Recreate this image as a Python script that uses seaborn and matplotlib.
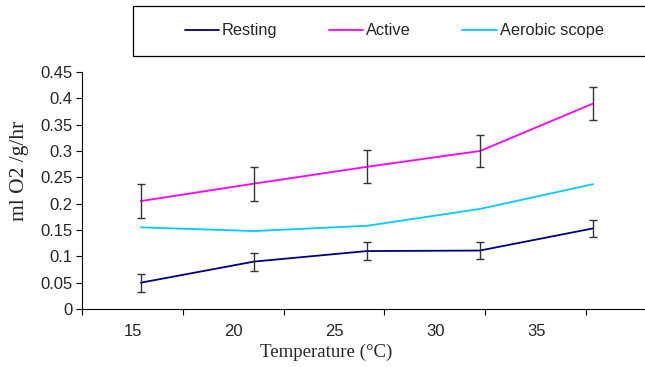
import matplotlib
matplotlib.use('Agg')

import numpy as np
import pandas as pd
import seaborn as sns
import matplotlib.pyplot as plt
from matplotlib.patches import Rectangle
from matplotlib.lines import Line2D

# Data
temperatures = [15, 20, 25, 30, 35]
resting = [0.050, 0.090, 0.110, 0.111, 0.153]
resting_err = [0.017, 0.017, 0.017, 0.017, 0.016]
active = [0.205, 0.238, 0.270, 0.300, 0.390]
active_err = [0.032, 0.032, 0.031, 0.031, 0.032]
aerobic_scope = [0.155, 0.148, 0.158, 0.190, 0.237]
y_ticks = [0, 0.05, 0.1, 0.15, 0.2, 0.25, 0.3, 0.35, 0.4, 0.45]
y_tick_labels = ['0', '0.05', '0.1', '0.15', '0.2', '0.25', '0.3', '0.35', '0.4', '0.45']

series_names = ['Resting', 'Active', 'Aerobic scope']
colors = {'Resting': '#000080', 'Active': '#FF00FF', 'Aerobic scope': '#00CCFF'}

idx = np.arange(len(temperatures))
df = pd.concat([
    pd.DataFrame({'pos': idx, 'value': resting, 'series': 'Resting'}),
    pd.DataFrame({'pos': idx, 'value': active, 'series': 'Active'}),
    pd.DataFrame({'pos': idx, 'value': aerobic_scope, 'series': 'Aerobic scope'}),
])

sns.set_style('white')
plt.rcParams['font.family'] = ['Liberation Sans', 'DejaVu Sans']

W, H = 645, 367
fig = plt.figure(figsize=(W / 100, H / 100), dpi=100)

# axes in pixel terms: left spine at 82, bottom at 309, top (0.45) at 72
ax_left, ax_right, ax_bottom, ax_top = 82, 665, 309, 72
ax = fig.add_axes([ax_left / W, 1 - ax_bottom / H, (ax_right - ax_left) / W, (ax_bottom - ax_top) / H])

sns.lineplot(data=df, x='pos', y='value', hue='series', hue_order=series_names,
             palette=colors, linewidth=1.3, ax=ax, legend=False)

ax.errorbar(idx, resting, yerr=resting_err, fmt='none', ecolor='#333333',
            elinewidth=1.0, capsize=3.2, capthick=1.0, zorder=3)
ax.errorbar(idx, active, yerr=active_err, fmt='none', ecolor='#333333',
            elinewidth=1.0, capsize=3.2, capthick=1.0, zorder=3)

# Excel-like category axis: points sit at 140 + 113.2*i px, ticks every 101 px
px_per_pos = 113.2
first_pt = 140
ax.set_xlim((ax_left - first_pt) / px_per_pos, (ax_right - first_pt) / px_per_pos)
tick_px = [81 + 101 * k for k in range(6)]
label_px = [132 + 101 * k for k in range(5)]
ax.set_xticks([(p - first_pt) / px_per_pos for p in tick_px])
ax.set_xticklabels([])
ax.set_xticks([(p - first_pt) / px_per_pos for p in label_px], minor=True)
ax.set_xticklabels([str(t) for t in temperatures], minor=True)
ax.tick_params(axis='x', which='major', direction='out', length=4, width=0.8, color='black')
ax.tick_params(axis='x', which='minor', length=0, pad=11, labelsize=12)

ax.set_ylim(0, 0.45)
ax.set_yticks(y_ticks)
ax.set_yticklabels(y_tick_labels)
ax.tick_params(axis='y', direction='out', length=4, width=0.8, color='black', labelsize=12, pad=3)
ax.tick_params(left=True, bottom=True)

for side in ['top', 'right']:
    ax.spines[side].set_visible(False)
for side in ['left', 'bottom']:
    ax.spines[side].set_color('black')
    ax.spines[side].set_linewidth(0.8)
ax.set_xlabel('')
ax.set_ylabel('')

fig.text(326 / W, 1 - 352 / H, 'Temperature (\u00b0C)', ha='center', va='center',
         family='Liberation Serif', fontsize=13.6)
fig.text(20 / W, 1 - 171 / H, 'ml O2 /g/hr', ha='center', va='center', rotation=90,
         family='Liberation Serif', fontsize=15.5)

# legend box across the top, running off the right edge (drawn by hand so
# all three labels share one baseline, like the original)
fig.patches.append(Rectangle((133 / W, 1 - 56 / H), 600 / W, 50 / H, transform=fig.transFigure,
                             fill=False, edgecolor='black', linewidth=0.9))
legend_line_px = [(185, 219), (329, 363), (462, 497)]
leg_y = 1 - 30 / H
for name, (x0, x1) in zip(series_names, legend_line_px):
    fig.lines.append(Line2D([x0 / W, x1 / W], [leg_y, leg_y], transform=fig.transFigure,
                            color=colors[name], linewidth=1.3))
    fig.text((x1 + 3) / W, 1 - 35 / H, name, ha='left', va='baseline', fontsize=11.8)

fig.savefig('out.png', dpi=100)
